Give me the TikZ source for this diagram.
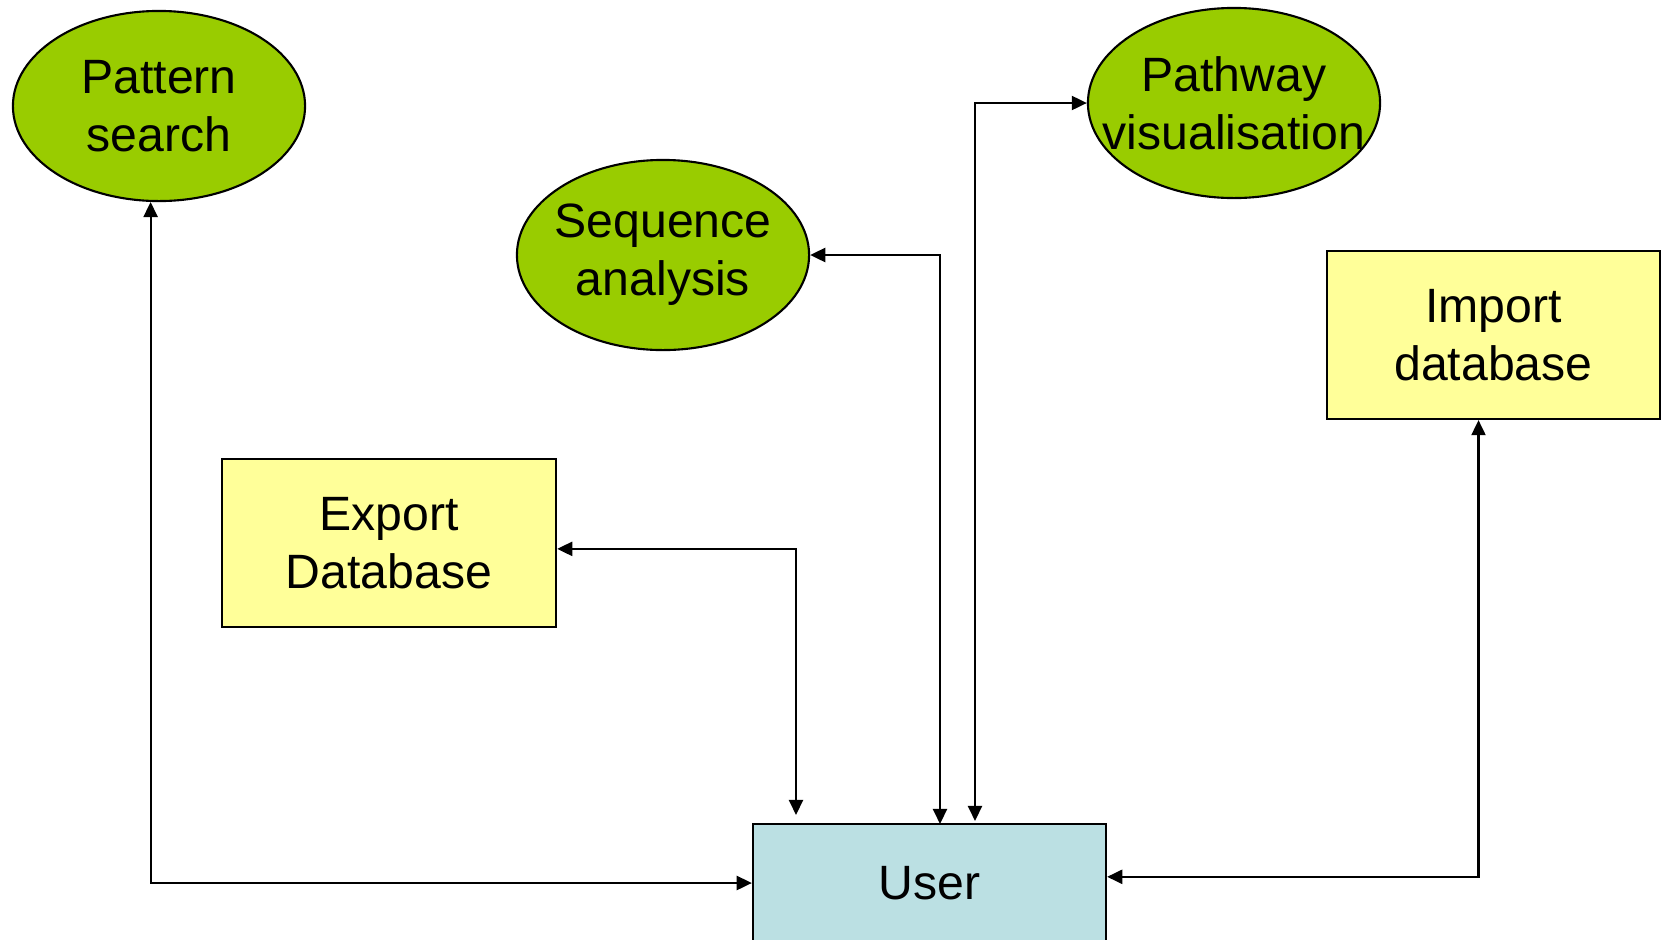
\documentclass[tikz,border=0pt]{standalone}
\usepackage{fontspec}
\setmainfont{Liberation Sans}
\usepackage{tikz}
\usetikzlibrary{arrows.meta, shapes.geometric}

\definecolor{toolgreen}{HTML}{99CC00}
\definecolor{dbyellow}{HTML}{FFFF99}
\definecolor{userblue}{HTML}{BBE0E3}

\begin{document}
\begin{tikzpicture}[
    x=0.01cm, y=-0.01cm,
    >={Triangle[length=4.3pt, width=4pt]},
    label text/.style={font=\fontsize{13.7}{16.5}\selectfont, align=center, text=black},
    tool/.style={ellipse, draw, line width=0.6pt, fill=toolgreen,
        inner xsep=-1cm, inner ysep=-0.5cm,
        minimum width=2.92cm, minimum height=1.9cm, label text},
    dbbox/.style={rectangle, draw, line width=0.6pt, fill=dbyellow, inner sep=0pt,
        minimum width=3.34cm, minimum height=1.68cm, label text},
    userbox/.style={rectangle, draw, line width=0.6pt, fill=userblue, inner sep=0pt,
        minimum width=3.53cm, minimum height=1.18cm, label text},
    link/.style={<->, line width=0.6pt}
]
\useasboundingbox (0,0) rectangle (1661,939);

% Tools
\node[tool] (ps) at (159,106) {Pattern\\search};
\node[tool] (sa) at (663,255) {Sequence\\analysis};
\node[tool] (pv) at (1234,103) {Pathway\\visualisation};

% Databases
\node[dbbox] (exp) at (389,543) {Export\\Database};
\node[dbbox, minimum width=3.33cm] (imp) at (1493.5,335) {Import\\database};

% User
\node[userbox] (user) at (929.5,883) {User};

% Entry points on the user box
\coordinate (exp-in) at (796,815);
\coordinate (sa-in) at (940,824);
\coordinate (pv-in) at (975,821);

% Connectors
\draw[link] (ps.265) |- (user.west);
\draw[link] (exp.-2.5) -| (exp-in);
\draw[link] (sa.east) -| (sa-in);
\draw[link] (pv-in) |- (pv.west);
\draw[link] (imp.-100) |- (user.2.6);

\end{tikzpicture}
\end{document}
